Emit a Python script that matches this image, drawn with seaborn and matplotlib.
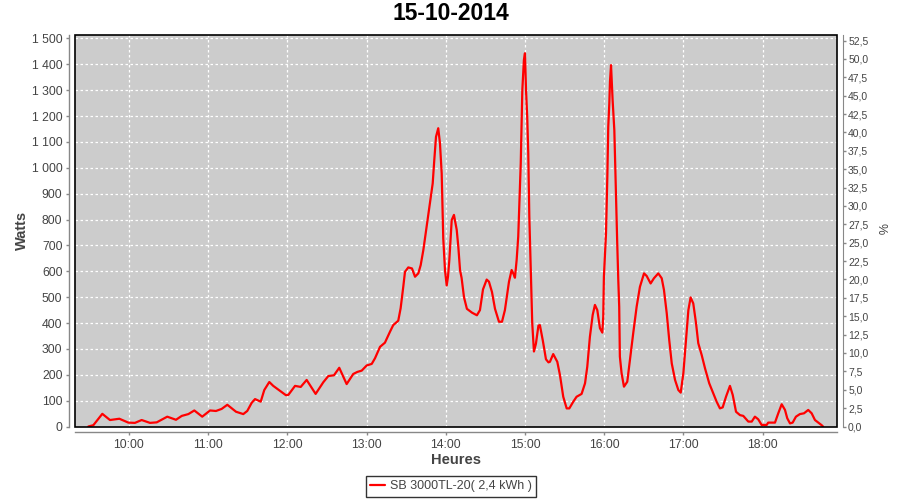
import numpy as np
import pandas as pd
import matplotlib
matplotlib.use("Agg")
import matplotlib.pyplot as plt
import seaborn as sns
from matplotlib.ticker import FuncFormatter, MultipleLocator
from matplotlib.patches import Rectangle

# ---- data (minutes after midnight, watts) ----
minutes = [569.2, 573.0, 579.8, 585.6, 592.7, 599.5, 604.5, 609.6, 615.9, 621.0,
           629.0, 635.6, 640.0, 645.0, 649.5, 655.5, 661.4, 665.9, 670.2, 674.5,
           681.1, 686.6, 689.6, 693.0, 695.5, 699.8, 702.5, 706.3, 709.3, 714.4,
           718.9, 720.7, 725.8, 730.1, 734.6, 741.4, 747.2, 751.0, 755.3, 759.3,
           764.9, 769.9, 773.0, 776.3, 780.1, 783.9, 786.4, 790.2, 793.9, 797.7,
           800.2, 804.0, 805.8, 807.8, 809.1, 811.6, 814.4, 816.7, 819.2, 821.0,
           823.0, 825.5, 828.0, 830.1, 831.3, 832.6, 834.3, 835.6, 836.9, 838.1,
           839.4, 840.7, 841.7, 842.7, 844.5, 846.2, 848.3, 849.5, 850.8, 852.0,
           853.8, 856.0, 859.9, 863.6, 865.9, 868.2, 871.0, 872.7, 875.0, 877.3,
           880.3, 882.6, 884.8, 887.9, 889.9, 891.3, 892.4, 893.7, 894.9, 896.8,
           898.0, 899.2, 900.0, 900.8, 901.7, 902.5, 903.3, 904.5, 905.5, 906.8,
           908.3, 910.2, 911.3, 913.6, 915.9, 917.8, 918.9, 921.4, 924.5, 926.5,
           929.0, 931.6, 933.6, 936.6, 939.1, 942.9, 945.5, 947.2, 949.2, 951.3,
           953.0, 954.8, 956.8, 958.6, 959.3, 959.8, 961.4, 962.4, 963.1, 963.9,
           964.4, 965.2, 966.4, 967.7, 968.7, 969.9, 970.7, 971.4, 971.9, 973.2,
           975.0, 977.5, 979.5, 982.0, 984.6, 987.1, 990.2, 992.2, 995.2, 997.7,
           1001.0, 1003.6, 1005.3, 1007.4, 1009.3, 1011.2, 1013.7, 1016.2, 1018.0, 1020.0,
           1022.0, 1023.8, 1025.5, 1027.5, 1029.6, 1031.3, 1033.9, 1036.4, 1039.6, 1042.7,
           1045.2, 1047.7, 1049.8, 1052.3, 1055.3, 1057.4, 1059.9, 1062.9, 1065.4, 1069.2,
           1071.8, 1074.2, 1076.7, 1079.3, 1083.1, 1084.3, 1089.4, 1091.9, 1094.5, 1097.0,
           1098.7, 1100.8, 1102.8, 1105.3, 1108.3, 1111.4, 1114.6, 1117.2, 1119.7, 1122.2,
           1124.8, 1125.8]
watts = [0, 5, 49, 25, 30, 15, 14, 25, 14, 16,
         38, 26, 41, 48, 62, 38, 62, 60, 68, 84,
         57, 48, 60, 92, 106, 96, 141, 172, 157, 138,
         121, 122, 157, 153, 180, 126, 171, 195, 198, 227,
         164, 203, 211, 216, 236, 242, 264, 308, 324, 366,
         392, 409, 457, 540, 598, 615, 611, 579, 592, 624,
         682, 772, 863, 940, 1030, 1120, 1153, 1095, 979, 727,
         605, 545, 580, 644, 798, 818, 760, 695, 605, 574,
         500, 455, 440, 430, 450, 530, 568, 560, 520, 455,
         405, 405, 450, 560, 605, 590, 575, 644, 734, 1017,
         1301, 1417, 1443, 1301, 1198, 1056, 811, 579, 400, 290,
         320, 390, 392, 330, 260, 248, 250, 280, 250, 199,
         115, 70, 70, 96, 115, 126, 167, 231, 347, 431,
         470, 450, 380, 363, 424, 579, 747, 966, 1159, 1249,
         1333, 1397, 1262, 1146, 940, 708, 566, 463, 270, 206,
         154, 173, 257, 360, 463, 540, 592, 582, 553, 573,
         592, 573, 528, 438, 334, 244, 180, 141, 131, 206,
         334, 450, 499, 476, 399, 322, 276, 225, 167, 128,
         96, 70, 74, 115, 157, 122, 57, 44, 41, 19,
         19, 38, 28, 6, 6, 15, 15, 51, 86, 64,
         32, 12, 15, 38, 48, 51, 64, 51, 25, 15,
         5, 0]
series_name = "SB 3000TL-20( 2,4 kWh )"
title = "15-10-2014"
x_label = "Heures"
y_label = "Watts"
y2_label = "%"
hour_ticks = [10, 11, 12, 13, 14, 15, 16, 17, 18]

df = pd.DataFrame({"hours": np.array(minutes) / 60.0, "watts": watts})

sns.set_style("white")
plt.rcParams["font.family"] = ["Liberation Sans", "DejaVu Sans"]

W, H = 900, 500
fig = plt.figure(figsize=(9, 5), dpi=100)
L, R, T, B = 75, 837, 35, 426.5
ax = fig.add_axes([L / W, 1 - B / H, (R - L) / W, (B - T) / H])

sns.lineplot(data=df, x="hours", y="watts", color="#FF0000", linewidth=1.6,
             ax=ax, legend=False, label=series_name, sort=False)
ax.set_facecolor("#CCCCCC")
ax.set_xlim(559.1 / 60, 1136.4 / 60)
ax.set_ylim(0, 1513.5)

ax.set_xticks(hour_ticks)
ax.xaxis.set_major_formatter(FuncFormatter(lambda v, p: f"{int(round(v)):02d}:00"))
ax.yaxis.set_major_locator(MultipleLocator(100))
ax.yaxis.set_major_formatter(FuncFormatter(lambda v, p: f"{int(round(v)):,}".replace(",", " ")))

ax.set_axisbelow(True)
ax.grid(True, color="white", linestyle=(0, (2, 2)), linewidth=0.9)

axis_gray = "#888888"
label_gray = "#444444"
for s in ["top", "right"]:
    ax.spines[s].set_visible(False)
for s in ["left", "bottom"]:
    ax.spines[s].set_visible(True)
    ax.spines[s].set_color(axis_gray)
    ax.spines[s].set_linewidth(1.0)
    ax.spines[s].set_position(("outward", 4))
ax.tick_params(axis="both", which="major", length=2, width=1, color=axis_gray,
               labelcolor=label_gray, labelsize=8.8, direction="out", pad=3,
               left=True, bottom=True)

ax.add_patch(Rectangle((0, 0), 1, 1, transform=ax.transAxes, fill=False,
                       edgecolor="black", linewidth=1.2, zorder=5, clip_on=False))

ax2 = ax.twinx()
ax2.set_ylim(0, 53.25)
ax2.yaxis.set_major_locator(MultipleLocator(2.5))
ax2.yaxis.set_major_formatter(FuncFormatter(lambda v, p: f"{v:.1f}".replace(".", ",")))
for s in ["top", "left", "bottom"]:
    ax2.spines[s].set_visible(False)
ax2.spines["right"].set_visible(True)
ax2.spines["right"].set_color(axis_gray)
ax2.spines["right"].set_position(("outward", 4))
ax2.tick_params(axis="y", length=2, width=1, color=axis_gray, labelcolor=label_gray,
                labelsize=7.5, direction="out", pad=2, right=True)
ax2.grid(False)

ax.set_xlabel(x_label, fontsize=10.5, fontweight="bold", color=label_gray)
ax.xaxis.set_label_coords(0.5, (B - 460) / (B - T))
ax.xaxis.label.set_verticalalignment("center")
ax.set_ylabel(y_label, fontsize=10.5, fontweight="bold", color=label_gray)
ax.yaxis.set_label_coords((22 - L) / (R - L), 0.5)
ax.yaxis.label.set_verticalalignment("center")
ax2.set_ylabel(y2_label, fontsize=9, color=label_gray, rotation=-90)
ax2.yaxis.set_label_coords((880 - L) / (R - L), (B - 229) / (B - T))
ax2.yaxis.label.set_verticalalignment("center")

fig.text(451 / W, 1 - 14 / H, title, ha="center", va="center",
         fontsize=16.5, fontweight="bold", color="black")

leg = fig.legend(handles=[ax.lines[0]], labels=[series_name], loc="center",
                 bbox_to_anchor=(451 / W, 1 - 486.5 / H), fontsize=9,
                 frameon=True, fancybox=False, edgecolor="black",
                 handlelength=1.2, handletextpad=0.4, borderpad=0.35,
                 borderaxespad=0)
leg.get_frame().set_linewidth(1.0)
for t in leg.get_texts():
    t.set_color(label_gray)

fig.savefig("out.png", dpi=100, facecolor="white")
